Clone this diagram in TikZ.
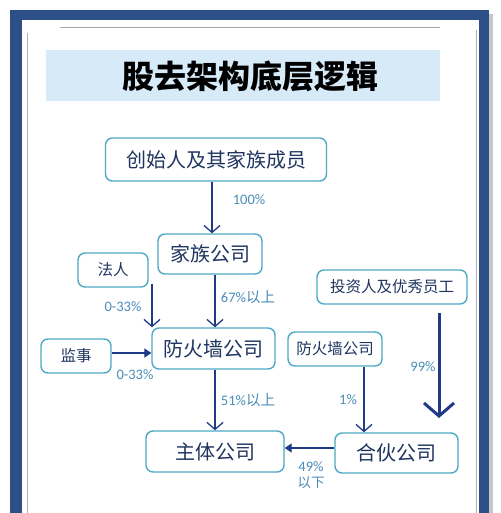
\documentclass[tikz,border=0pt]{standalone}
\usepackage{fontspec}
\newfontfamily\cjk{Noto Sans CJK SC}
\newfontfamily\num{Carlito}
\usetikzlibrary{arrows.meta}
\definecolor{frameblue}{HTML}{2B4F86}
\definecolor{band}{HTML}{D6EAF8}
\definecolor{boxline}{HTML}{4FA8C6}
\definecolor{boxtext}{HTML}{1F3560}
\definecolor{arr}{HTML}{1F3A86}
\definecolor{lab}{HTML}{4A8DB8}
\begin{document}
\begin{tikzpicture}[x=1pt,y=-1pt,
  box/.style={draw=boxline, line width=1.4pt, rounded corners=7pt, fill=white, text=boxtext, inner sep=0pt},
  big/.style={font=\cjk\fontsize{20}{22}\selectfont},
  small/.style={font=\cjk\fontsize{15.5}{18}\selectfont},
  lbl/.style={text=lab, font=\num\fontsize{14.5}{16}\selectfont, inner sep=0pt},
  openarr/.style={draw=arr, line width=1.3pt, -{Straight Barb[length=7pt,width=16pt,line width=1.3pt]}},
  fillarr/.style={draw=arr, line width=1.1pt, -{Triangle[length=7pt,width=9pt]}},
  bigarr/.style={draw=arr, line width=3pt, -{Straight Barb[length=13pt,width=30pt,line width=3pt]}}
]
\useasboundingbox (0,0) rectangle (500,513);
\fill[white] (0,0) rectangle (500,513);
% shadow and frame
\fill[gray!45] (489,14) rectangle (493,513);
\fill[frameblue] (10,10) rectangle (489,513);
\fill[white] (22,20) rectangle (479,513);
\draw[gray!60, line width=0.8pt] (27,33) -- (27,513);
\draw[gray!60, line width=0.8pt] (476,30) -- (476,513);
\draw[gray!70, line width=0.8pt] (60,27) -- (440,27);
% title
\fill[band] (46,50) rectangle (440,101);
\node[font=\cjk\bfseries\fontsize{32}{34}\selectfont, text=black, inner sep=0pt] (title) at (250.5,76) {股去架构底层逻辑};
% nodes
\node[box, big, minimum width=221pt, minimum height=43pt] (top) at (216,159.5) {创始人及其家族成员};
\node[box, big, minimum width=104pt, minimum height=40pt] (fam) at (210,254) {家族公司};
\node[box, small, minimum width=70pt, minimum height=34pt] (faren) at (113,270) {法人};
\node[box, small, minimum width=150pt, minimum height=34pt] (inv) at (392,287) {投资人及优秀员工};
\node[box, big, minimum width=123pt, minimum height=41pt] (fw) at (213.5,348.5) {防火墙公司};
\node[box, small, minimum width=70pt, minimum height=34pt] (js) at (76,356) {监事};
\node[box, small, minimum width=94pt, minimum height=34pt] (fw2) at (335,349) {防火墙公司};
\node[box, big, minimum width=138pt, minimum height=41pt] (main) at (215,451.5) {主体公司};
\node[box, big, minimum width=123pt, minimum height=40pt] (hh) at (396.5,453) {合伙公司};
% helper coordinates
\coordinate (x212) at (212,0);
\coordinate (x215) at (215,0);
\coordinate (x364) at (364,0);
\coordinate (fa) at (152,284);
\coordinate (is) at (439,313);
\coordinate (ie) at (439,418);
\coordinate (y353) at (0,353);
\coordinate (y448) at (0,448);
% connectors
\draw[openarr] (top.south -| x212) -- (fam.north -| x212);
\draw[openarr] (fa) -- (fw.north -| fa);
\draw[openarr] (fam.south -| x215) -- (fw.north -| x215);
\draw[fillarr] (js.east |- y353) -- (fw.west |- y353);
\draw[openarr] (fw.south -| x215) -- (main.north -| x215);
\draw[openarr] (fw2.south -| x364) -- (hh.north -| x364);
\draw[bigarr] (is) -- (ie);
\draw[fillarr] (hh.west |- y448) -- (main.east |- y448);
% labels
\node[lbl] (l100) at (249,200) {100\%};
\node[lbl] (l033a) at (123,307) {0-33\%};
\node[lbl] (l67) at (248,297) {67\%{\cjk 以上}};
\node[lbl] (l99) at (423,367) {99\%};
\node[lbl] (l033b) at (135,375) {0-33\%};
\node[lbl] (l51) at (248,400) {51\%{\cjk 以上}};
\node[lbl] (l1) at (348,400) {1\%};
\node[lbl] (l49) at (311,467) {49\%};
\node[lbl, font=\cjk\fontsize{13.5}{15}\selectfont] (lx) at (311,483) {以下};
\end{tikzpicture}
\end{document}
